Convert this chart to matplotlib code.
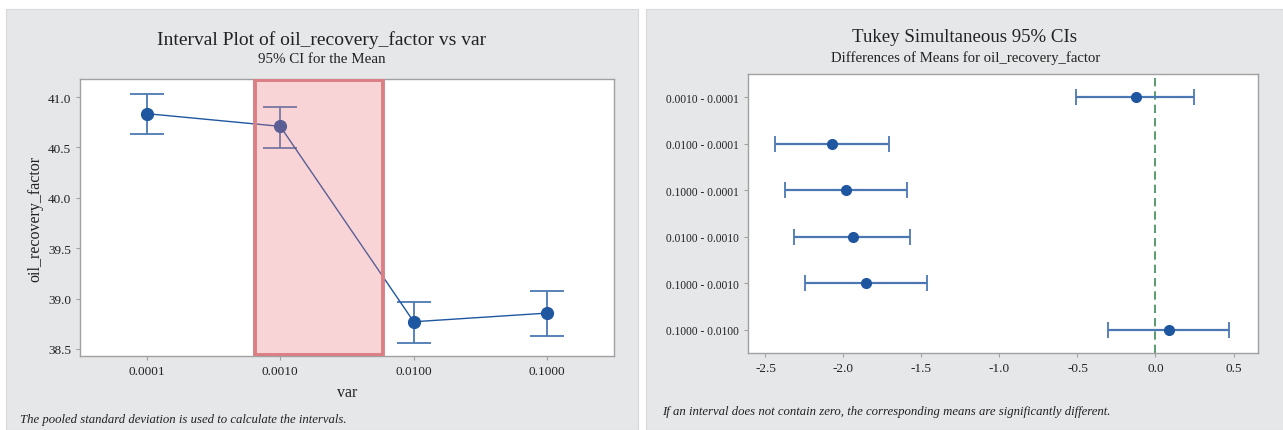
import matplotlib.pyplot as plt
from matplotlib.patches import Rectangle

# interval plot data (95% CI for the mean)
levels = ['0.0001', '0.0010', '0.0100', '0.1000']
means = [40.836, 40.71, 38.77, 38.856]
ci_low = [40.63, 40.498, 38.559, 38.632]
ci_high = [41.034, 40.905, 38.968, 39.078]

# tukey simultaneous 95% CIs, differences of means
pairs = ['0.0010 - 0.0001', '0.0100 - 0.0001', '0.1000 - 0.0001',
         '0.0100 - 0.0010', '0.1000 - 0.0010', '0.1000 - 0.0100']
diff = [-0.127, -2.072, -1.986, -1.942, -1.856, 0.087]
diff_low = [-0.508, -2.44, -2.372, -2.317, -2.244, -0.304]
diff_high = [0.244, -1.71, -1.595, -1.571, -1.467, 0.473]

plt.rcParams['font.family'] = ['Liberation Serif', 'DejaVu Serif']
W, H = 1283, 431
panel = '#E6E7E9'
blue = '#1F56A0'
bar_blue = '#4B78B2'
txt = '#222222'

fig = plt.figure(figsize=(W / 100, H / 100), dpi=100, facecolor='white')
# gray panel backgrounds, kept under the axes
fig.patches.append(Rectangle((6 / W, 0), 632 / W, 1 - 10 / H, transform=fig.transFigure,
                             facecolor=panel, edgecolor='#D8D8D8', lw=0.8, zorder=-5))
fig.patches.append(Rectangle((646 / W, 0), 637 / W, 1 - 10 / H, transform=fig.transFigure,
                             facecolor=panel, edgecolor='#D8D8D8', lw=0.8, zorder=-5))


def style_axes(ax):
    for s in ax.spines.values():
        s.set_color('#A0A0A0')
        s.set_linewidth(1.0)
    ax.tick_params(colors='#A0A0A0', labelcolor=txt, labelsize=9.5, length=3, width=0.8)


# left: interval plot
ax1 = fig.add_axes([80 / W, 1 - 357 / H, 534 / W, 277 / H])
ax1.set_facecolor('white')
xs = list(range(len(levels)))
yerr = [[m - l for m, l in zip(means, ci_low)], [h - m for m, h in zip(means, ci_high)]]
ax1.errorbar(xs, means, yerr=yerr, fmt='none', ecolor=bar_blue, elinewidth=1.3,
             capsize=12, capthick=1.3, zorder=2)
ax1.plot(xs, means, color=blue, lw=1.0, zorder=3)
ax1.plot(xs, means, 'o', color=blue, ms=8.5, zorder=4)
ax1.add_patch(Rectangle((0.81, 38.43), 0.96, 2.75, facecolor='#E8737B', alpha=0.3,
                        edgecolor='none', zorder=5))
ax1.add_patch(Rectangle((0.81, 38.435), 0.96, 2.74, facecolor='none', edgecolor='#DB7F84',
                        lw=2.8, zorder=6))
ax1.set_xlim(-0.5, 3.5)
ax1.set_ylim(38.43, 41.18)
ax1.set_xticks(xs)
ax1.set_xticklabels(levels)
ax1.set_yticks([38.5, 39.0, 39.5, 40.0, 40.5, 41.0])
ax1.set_yticklabels(['38.5', '39.0', '39.5', '40.0', '40.5', '41.0'])
style_axes(ax1)
ax1.set_xlabel('var', fontsize=11.5, color=txt, labelpad=5)
ax1.set_ylabel('oil_recovery_factor', fontsize=11.5, color=txt, labelpad=3)

fig.text(322 / W, 1 - 40 / H, 'Interval Plot of oil_recovery_factor vs var', ha='center',
         va='center', fontsize=14, color=txt)
fig.text(322 / W, 1 - 60 / H, '95% CI for the Mean', ha='center', va='center',
         fontsize=10.8, color=txt)
fig.text(20 / W, 1 - 420 / H, 'The pooled standard deviation is used to calculate the intervals.',
         ha='left', va='center', fontsize=9.2, style='italic', color=txt)

# right: tukey intervals
ax2 = fig.add_axes([747.5 / W, 1 - 354 / H, 510.5 / W, 279 / H])
ax2.set_facecolor('white')
ys = list(range(1, len(pairs) + 1))
xerr = [[d - l for d, l in zip(diff, diff_low)], [h - d for d, h in zip(diff, diff_high)]]
ax2.axvline(0, color='#3E8A55', lw=1.2, ls=(0, (5, 3)), zorder=1)
ax2.errorbar(diff, ys, xerr=xerr, fmt='none', ecolor=bar_blue, elinewidth=1.6,
             capsize=6, capthick=1.3, zorder=2)
ax2.plot(diff, ys, 'o', color=blue, ms=7, zorder=3)
ax2.set_xlim(-2.615, 0.657)
ax2.set_ylim(6.5, 0.5)
ax2.set_yticks(ys)
ax2.set_yticklabels(pairs)
ax2.set_xticks([-2.5, -2.0, -1.5, -1.0, -0.5, 0.0, 0.5])
ax2.set_xticklabels(['-2.5', '-2.0', '-1.5', '-1.0', '-0.5', '0.0', '0.5'])
style_axes(ax2)
ax2.tick_params(axis='y', labelsize=8.3)

fig.text(964 / W, 1 - 38 / H, 'Tukey Simultaneous 95% CIs', ha='center', va='center',
         fontsize=13.6, color=txt)
fig.text(966 / W, 1 - 58 / H, 'Differences of Means for oil_recovery_factor', ha='center',
         va='center', fontsize=10.6, color=txt)
fig.text(662 / W, 1 - 412 / H,
         'If an interval does not contain zero, the corresponding means are significantly different.',
         ha='left', va='center', fontsize=9.2, style='italic', color=txt)

fig.savefig('out.png', dpi=100, facecolor='white')
